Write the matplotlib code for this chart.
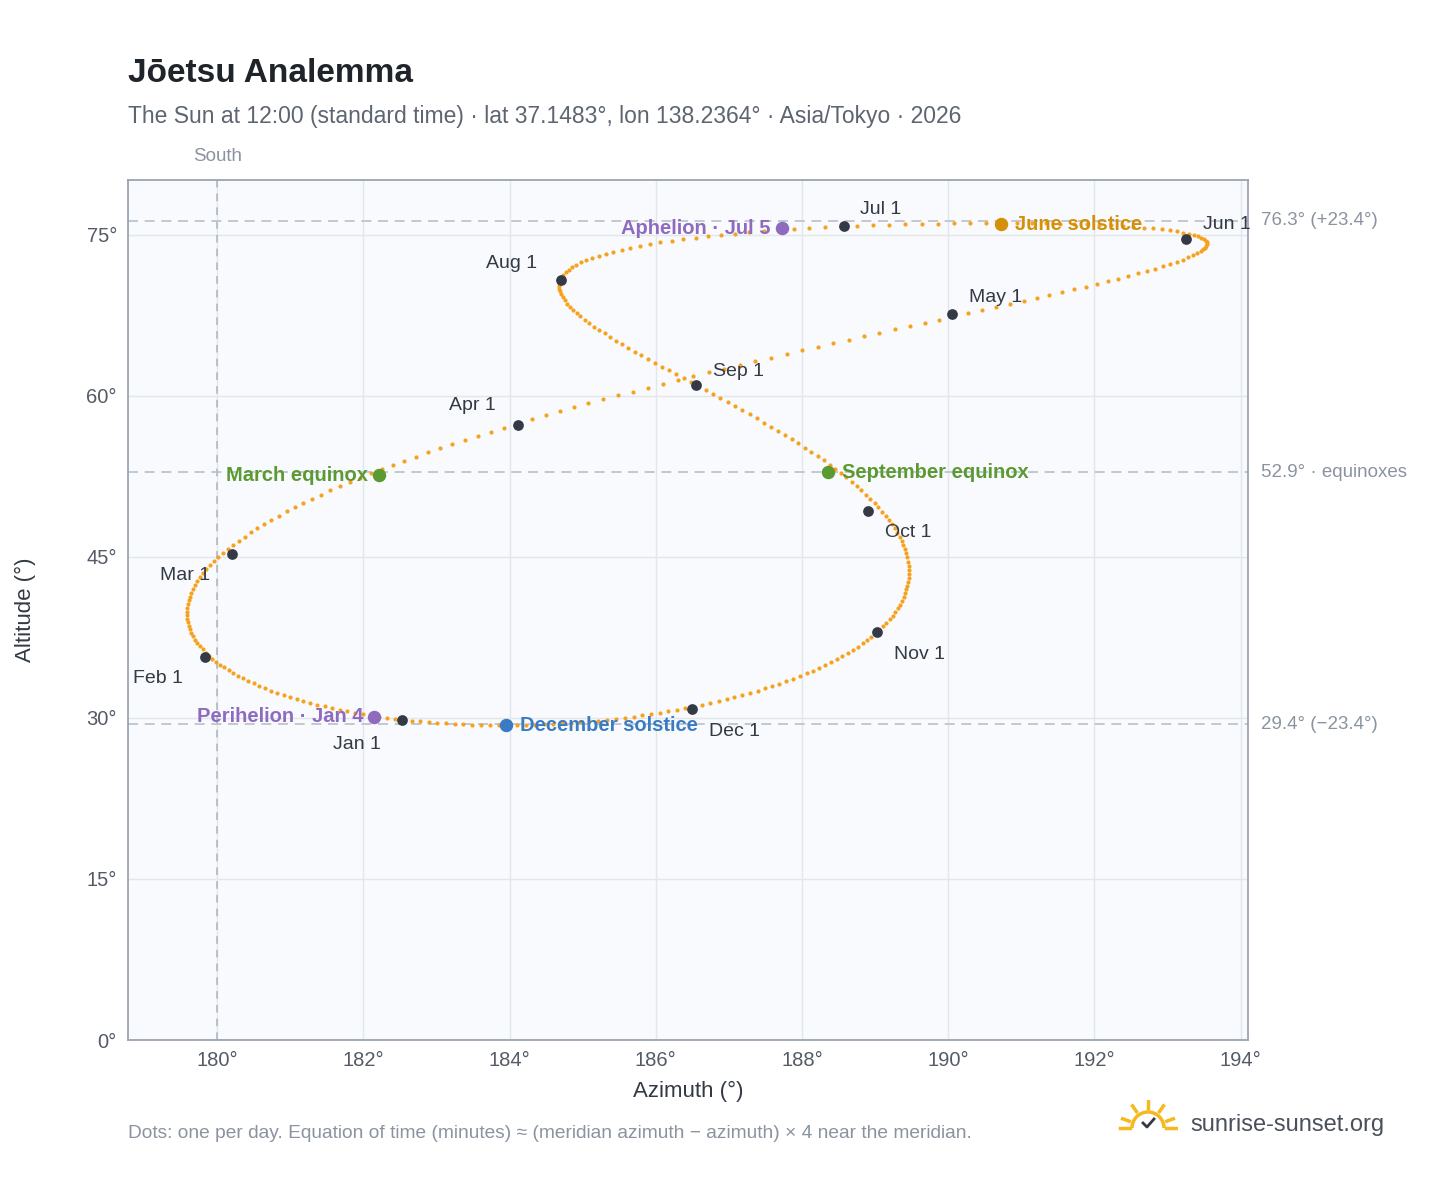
import numpy as np
import matplotlib.pyplot as plt
from matplotlib.patches import Arc

plt.rcParams['font.family'] = ['Liberation Sans', 'DejaVu Sans']

# site / time
LAT, LON, TZ_H = 37.1483, 138.2364, 9.0
YEAR_DAYS = 365

# monthly markers
month_labels = ['Jan 1', 'Feb 1', 'Mar 1', 'Apr 1', 'May 1', 'Jun 1',
                'Jul 1', 'Aug 1', 'Sep 1', 'Oct 1', 'Nov 1', 'Dec 1']
month_az = [182.53, 179.83, 180.20, 184.12, 190.05, 193.25,
            188.57, 184.70, 186.55, 188.90, 189.03, 186.50]
month_alt = [29.8, 35.7, 45.3, 57.3, 67.6, 74.6,
             75.8, 70.8, 61.0, 49.3, 38.0, 30.8]
month_off = [(-50, -24), (-52, -22), (-52, -22), (-50, 8), (12, 6), (12, 4),
             (12, 6), (-54, 6), (12, 4), (12, -22), (12, -22), (12, -22)]

# notable events
event_labels = ['March equinox', 'September equinox', 'June solstice',
                'December solstice', 'Perihelion · Jan 4', 'Aphelion · Jul 5']
event_az = [182.22, 188.35, 190.72, 183.95, 182.15, 187.72]
event_alt = [52.6, 52.9, 76.0, 29.3, 30.1, 75.6]
event_col = ['#5b9a32', '#5b9a32', '#d4900a', '#3a7cc4', '#8e6bbf', '#8e6bbf']
event_left = [True, False, False, False, True, True]


def sun_position(day):
    # daily sun position at 12:00 local standard time (NOAA approximations)
    g = 2 * np.pi / 365 * (day - 1)
    eqt = 229.18 * (0.000075 + 0.001868 * np.cos(g) - 0.032077 * np.sin(g)
                    - 0.014615 * np.cos(2 * g) - 0.040849 * np.sin(2 * g))
    dec = (0.006918 - 0.399912 * np.cos(g) + 0.070257 * np.sin(g)
           - 0.006758 * np.cos(2 * g) + 0.000907 * np.sin(2 * g)
           - 0.002697 * np.cos(3 * g) + 0.00148 * np.sin(3 * g))
    tst = 12 * 60 + eqt + 4 * LON - 60 * TZ_H
    ha = np.radians(tst / 4 - 180)
    lat = np.radians(LAT)
    cz = np.sin(lat) * np.sin(dec) + np.cos(lat) * np.cos(dec) * np.cos(ha)
    zen = np.arccos(cz)
    az = np.degrees(np.arctan2(np.sin(ha), np.cos(ha) * np.sin(lat) - np.tan(dec) * np.cos(lat))) + 180
    return az, 90 - np.degrees(zen)


days = np.arange(1, YEAR_DAYS + 1)
daily_az, daily_alt = sun_position(days)

fig = plt.figure(figsize=(14.48, 11.88), dpi=100)
ax = fig.add_axes([128 / 1448, 1 - 1040 / 1188, 1120 / 1448, 860 / 1188])
ax.set_facecolor('#f8fafd')
ax.set_xlim(178.78, 194.1)
ax.set_ylim(0, 80.1)
ax.set_xticks(range(180, 195, 2))
ax.set_xticklabels([f'{v}°' for v in range(180, 195, 2)])
ax.set_yticks(range(0, 76, 15))
ax.set_yticklabels([f'{v}°' for v in range(0, 76, 15)])
ax.grid(color='#e3e7ec', lw=1)
ax.tick_params(length=0, labelsize=14.5, colors='#555b66', pad=8)
for s in ax.spines.values():
    s.set_color('#9aa4b2')
    s.set_linewidth(1.3)
ax.set_xlabel('Azimuth (°)', fontsize=16, color='#333a44', labelpad=8)
ax.set_ylabel('Altitude (°)', fontsize=16, color='#333a44', labelpad=36)

# reference lines
ax.axvline(180, color='#aab3bf', ls=(0, (5, 4)), lw=1.1)
ax.text(180, 81.5, 'South', ha='center', va='bottom', fontsize=13.5, color='#8a939f')
for y, lab in [(76.3, '76.3° (+23.4°)'), (52.9, '52.9° · equinoxes'), (29.4, '29.4° (−23.4°)')]:
    ax.axhline(y, color='#b8c0ca', ls=(0, (6, 4)), lw=1.2)
    ax.text(194.28, y, lab, va='center', ha='left', fontsize=13.5, color='#8a939f', clip_on=False)

ax.scatter(daily_az, daily_alt, s=9, color='#f5a31f', zorder=3, lw=0)

ax.scatter(month_az, month_alt, s=45, color='#343a45', zorder=4)
for lab, x, y, off in zip(month_labels, month_az, month_alt, month_off):
    ax.annotate(lab, (x, y), xytext=off, textcoords='offset points', fontsize=14,
                color='#333a44', ha='left', va='bottom', zorder=5, annotation_clip=False)

for lab, x, y, c, left in zip(event_labels, event_az, event_alt, event_col, event_left):
    ax.scatter([x], [y], s=75, color=c, zorder=5)
    ax.annotate(lab, (x, y), xytext=(-8 if left else 10, 0), textcoords='offset points',
                fontsize=14.5, fontweight='bold', color=c, ha='right' if left else 'left',
                va='center', zorder=6)

fig.text(128 / 1448, 1 - 73 / 1188, 'Jōetsu Analemma', fontsize=24, fontweight='bold',
         color='#1f242b', va='center')
fig.text(128 / 1448, 1 - 116 / 1188,
         'The Sun at 12:00 (standard time) · lat 37.1483°, lon 138.2364° · Asia/Tokyo · 2026',
         fontsize=16.5, color='#5d6571', va='center')
fig.text(128 / 1448, 1 - 1134 / 1188,
         'Dots: one per day. Equation of time (minutes) ≈ (meridian azimuth − azimuth) × 4 near the meridian.',
         fontsize=13.8, color='#8a939f', va='center')
fig.text(1190 / 1448, 1 - 1125 / 1188, 'sunrise-sunset.org', fontsize=17, color='#4a515c', va='center')

# small sun logo
lax = fig.add_axes([1118 / 1448, 1 - 1140 / 1188, 60 / 1448, 40 / 1188])
lax.set_xlim(-1.5, 1.5)
lax.set_ylim(-0.6, 1.4)
lax.axis('off')
lax.add_patch(Arc((0, 0), 1.6, 1.6, theta1=0, theta2=180, color='#f5b91f', lw=2.5))
for a in np.radians([20, 55, 90, 125, 160]):
    lax.plot([1.0 * np.cos(a), 1.35 * np.cos(a)], [1.0 * np.sin(a), 1.35 * np.sin(a)],
             color='#f5b91f', lw=2.5)
lax.plot([-1.4, -0.9], [0, 0], color='#f5b91f', lw=2.5)
lax.plot([0.9, 1.4], [0, 0], color='#f5b91f', lw=2.5)
lax.plot([-0.25, -0.05, 0.3], [0.25, 0.05, 0.45], color='#333a44', lw=2)

fig.savefig('out.png', dpi=100, facecolor='white')
